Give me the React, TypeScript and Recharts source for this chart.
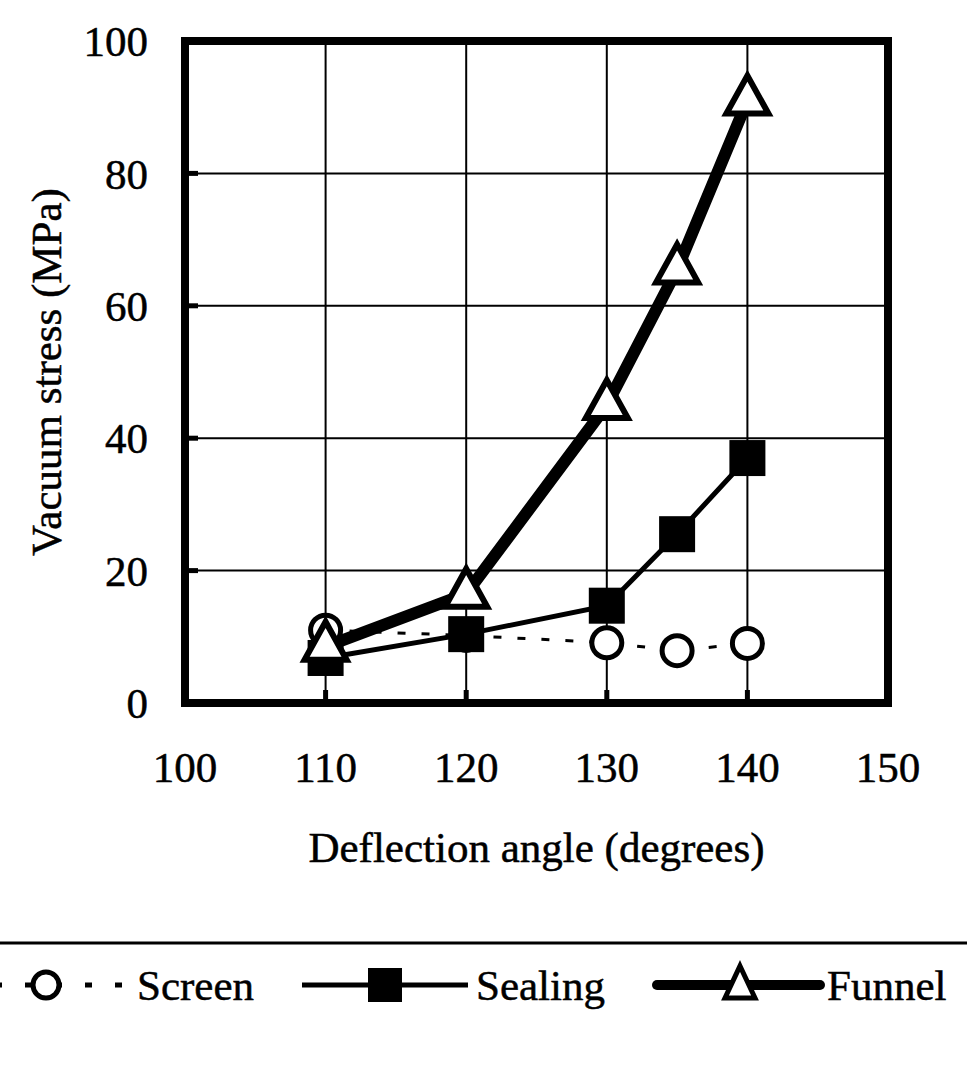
import { LineChart, Line, XAxis, YAxis, CartesianGrid, ReferenceArea, Legend } from 'recharts';

// deflection angles (degrees) and vacuum stress (MPa)
const angles = [110, 120, 130, 135, 140];
const screen = [11, 10.2, 9.1, 7.9, 9];
const sealing = [6.8, 10.4, 14.7, 25.5, 37];
const funnel = [8.5, 16.5, 45, 65.5, 91];

const xTicks = [100, 110, 120, 130, 140, 150];
const yTicks = [0, 20, 40, 60, 80, 100];

const data = angles.map((a, i) => ({
  angle: a,
  Screen: screen[i],
  Sealing: sealing[i],
  Funnel: funnel[i],
}));

const font = '"Liberation Serif", "Times New Roman", serif';
const fontSize = 43;
const textStyle = { fill: '#000', stroke: '#000', strokeWidth: 0.5, fontSize, fontFamily: font };

const SquareDot = (props: any) => {
  const { cx, cy, index } = props;
  if (cx == null || cy == null) return null;
  return <rect key={index} x={cx - 18} y={cy - 18} width={36} height={36} fill="#000" />;
};

const TriangleDot = (props: any) => {
  const { cx, cy, index } = props;
  if (cx == null || cy == null) return null;
  return (
    <polygon
      key={index}
      points={`${cx},${cy - 25} ${cx + 21},${cy + 13} ${cx - 21},${cy + 13}`}
      fill="#fff"
      stroke="#000"
      strokeWidth={6}
    />
  );
};

const legendLayout: Record<string, { x0: number; x1: number; mark: number; text: number }> = {
  Screen: { x0: -5, x1: 125, mark: 46, text: 137 },
  Sealing: { x0: 302, x1: 468, mark: 385, text: 476 },
  Funnel: { x0: 657, x1: 820, mark: 740, text: 827 },
};

const LegendContent = (props: any) => {
  const items = props.payload || [];
  const cy = 52;
  return (
    <svg width={967} height={90} style={{ display: 'block' }}>
      <line x1={0} y1={10} x2={967} y2={10} stroke="#000" strokeWidth={3} />
      {items.map((p: any) => {
        const name = String(p.value);
        const l = legendLayout[name];
        if (!l) return null;
        let glyph = null;
        let line = null;
        if (name === 'Screen') {
          line = <line x1={l.x0} y1={cy} x2={l.x1} y2={cy} stroke="#000" strokeWidth={5} strokeDasharray="7 23" />;
          glyph = <circle cx={l.mark} cy={cy} r={13} fill="#fff" stroke="#000" strokeWidth={5} />;
        } else if (name === 'Sealing') {
          line = <line x1={l.x0} y1={cy} x2={l.x1} y2={cy} stroke="#000" strokeWidth={5} />;
          glyph = <rect x={l.mark - 17} y={cy - 17} width={34} height={34} fill="#000" />;
        } else {
          line = <line x1={l.x0} y1={cy} x2={l.x1} y2={cy} stroke="#000" strokeWidth={10} strokeLinecap="round" />;
          glyph = (
            <polygon
              points={`${l.mark},${cy - 19} ${l.mark + 15},${cy + 13} ${l.mark - 15},${cy + 13}`}
              fill="#fff"
              stroke="#000"
              strokeWidth={5}
            />
          );
        }
        return (
          <g key={name}>
            {line}
            {glyph}
            <text x={l.text} y={cy} dy="0.35em" {...textStyle}>
              {name}
            </text>
          </g>
        );
      })}
    </svg>
  );
};

export default function App() {
  return (
    <div style={{ position: 'absolute', left: 0, top: 0, background: '#fff' }}>
      <LineChart
        width={967}
        height={1078}
        data={data}
        margin={{ top: 41, right: 79, left: 0, bottom: 205 }}
        style={{ fontFamily: font }}
      >
        <CartesianGrid stroke="#000" strokeWidth={2} />
        <XAxis
          dataKey="angle"
          type="number"
          domain={[100, 150]}
          ticks={xTicks}
          height={170}
          axisLine={false}
          tickSize={-13}
          tickMargin={61}
          tickLine={{ stroke: '#000', strokeWidth: 5 }}
          tick={textStyle}
          label={{
            value: 'Deflection angle (degrees)',
            position: 'insideBottom',
            offset: 11,
            ...textStyle,
          }}
        />
        <YAxis
          type="number"
          domain={[0, 100]}
          ticks={yTicks}
          width={185}
          axisLine={false}
          tickSize={-13}
          tickMargin={50}
          tickLine={{ stroke: '#000', strokeWidth: 5 }}
          tick={textStyle}
          label={{
            value: 'Vacuum stress (MPa)',
            angle: -90,
            position: 'insideLeft',
            offset: 46,
            ...textStyle,
            style: { textAnchor: 'middle' },
          }}
        />
        <ReferenceArea x1={100} x2={150} y1={0} y2={100} fill="none" stroke="#000" strokeWidth={8} />
        <Line
          dataKey="Screen"
          name="Screen"
          type="linear"
          stroke="#000"
          strokeWidth={3}
          strokeDasharray="8 16"
          dot={{ r: 15, fill: '#fff', stroke: '#000', strokeWidth: 5, strokeDasharray: 'none' }}
          isAnimationActive={false}
        />
        <Line
          dataKey="Sealing"
          name="Sealing"
          type="linear"
          stroke="#000"
          strokeWidth={5}
          dot={SquareDot}
          isAnimationActive={false}
        />
        <Line
          dataKey="Funnel"
          name="Funnel"
          type="linear"
          stroke="#000"
          strokeWidth={12}
          strokeLinejoin="round"
          dot={TriangleDot}
          isAnimationActive={false}
        />
        <Legend
          layout="horizontal"
          verticalAlign="middle"
          align="center"
          wrapperStyle={{ top: 933, left: 0, width: 967, height: 90 }}
          content={LegendContent}
        />
      </LineChart>
    </div>
  );
}
